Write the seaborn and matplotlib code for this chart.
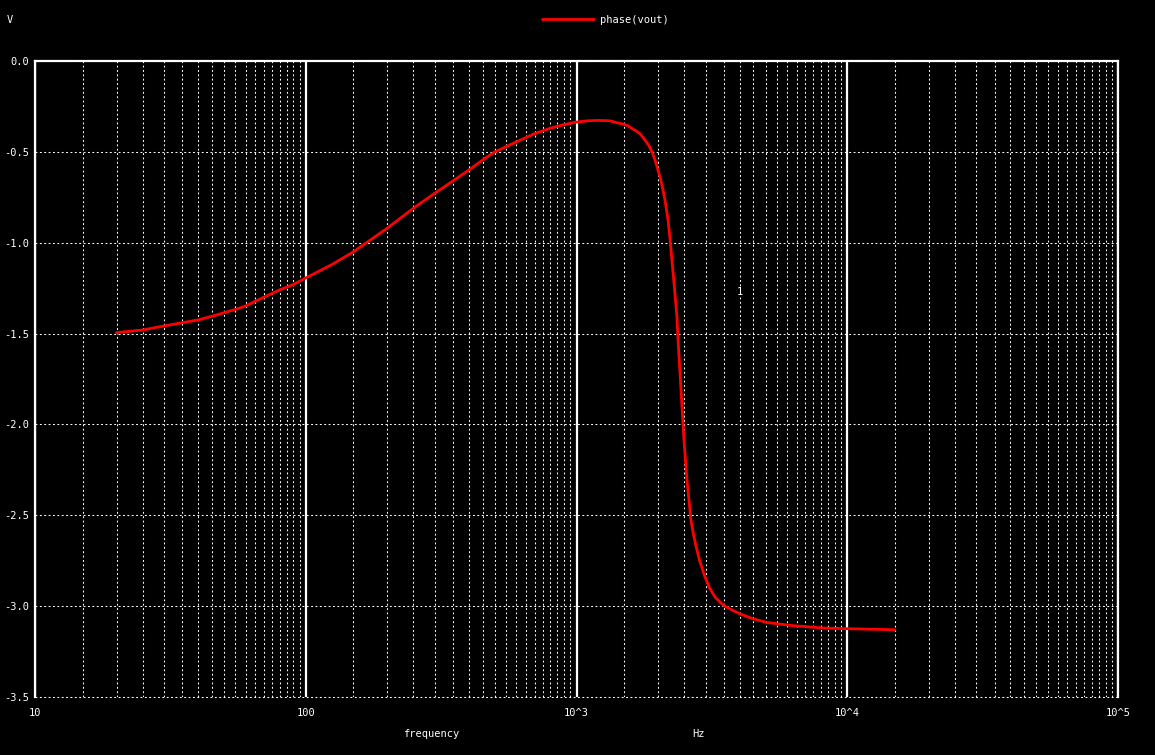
import numpy as np
import pandas as pd
import seaborn as sns
import matplotlib.pyplot as plt
from matplotlib.ticker import FixedLocator, NullFormatter

# data (frequency in Hz, phase in rad)
freq = [20, 25, 30, 35, 40, 45, 50, 55, 60, 70, 80, 90, 100, 125, 150, 200,
        250, 300, 350, 400, 450, 500, 600, 700, 800, 900, 1000, 1100, 1200,
        1330, 1406, 1485, 1550, 1600, 1660, 1716, 1760, 1800, 1850, 1901, 1950,
        2000, 2045, 2087, 2130, 2178, 2205, 2234, 2291, 2350, 2371, 2432, 2495,
        2560, 2648, 2700, 2763, 2850, 2983, 3100, 3248, 3400, 3530, 3690, 4018,
        4500, 5050, 6270, 8100, 10000, 15000]
phase = [-1.495, -1.48, -1.458, -1.44, -1.425, -1.405, -1.385, -1.367, -1.348,
         -1.30, -1.26, -1.23, -1.194, -1.12, -1.05, -0.92, -0.81, -0.727, -0.66,
         -0.60, -0.545, -0.50, -0.445, -0.40, -0.37, -0.35, -0.336, -0.329,
         -0.327, -0.329, -0.339, -0.347, -0.357, -0.37, -0.385, -0.40, -0.42,
         -0.44, -0.465, -0.50, -0.545, -0.60, -0.65, -0.71, -0.78, -0.875,
         -0.95, -1.04, -1.22, -1.41, -1.53, -1.81, -2.09, -2.31, -2.53, -2.60,
         -2.67, -2.75, -2.84, -2.90, -2.95, -2.98, -3.0, -3.015, -3.043, -3.07,
         -3.09, -3.107, -3.12, -3.124, -3.13]

x_ticks = [10, 100, 1000, 10000, 100000]
x_labels = ['10', '100', '10^3', '10^4', '10^5']
y_ticks = [0.0, -0.5, -1.0, -1.5, -2.0, -2.5, -3.0, -3.5]
y_labels = ['0.0', '-0.5', '-1.0', '-1.5', '-2.0', '-2.5', '-3.0', '-3.5']

df = pd.DataFrame({'frequency': freq, 'phase': phase})

sns.set_theme(style='dark', rc={'axes.facecolor': 'black',
                                'figure.facecolor': 'black',
                                'text.color': 'white'})
plt.rcParams['font.family'] = ['DejaVu Sans Mono', 'DejaVu Sans']
fs = 7.5

fig = plt.figure(figsize=(11.55, 7.55), dpi=100)
ax = fig.add_axes([35 / 1155, 1 - 697 / 755, (1118 - 35) / 1155, (697 - 61) / 755])

sns.lineplot(data=df, x='frequency', y='phase', color='#ff0000', linewidth=2.0,
             label='phase(vout)', ax=ax)

ax.set_xscale('log')
ax.set_xlim(10, 100000)
ax.set_ylim(-3.5, 0)

# minor grid every 5 units inside each decade (gnuplot style)
minor = [m * 10 ** d for d in range(1, 5) for m in np.arange(1.5, 10, 0.5)]
ax.xaxis.set_minor_locator(FixedLocator(minor))
ax.xaxis.set_minor_formatter(NullFormatter())
ax.set_xticks(x_ticks)
ax.set_xticklabels(x_labels)
ax.set_yticks(y_ticks)
ax.set_yticklabels(y_labels)
ax.tick_params(which='both', length=0, colors='white', labelsize=fs)
ax.tick_params(axis='x', pad=8)
ax.tick_params(axis='y', pad=4)

dots = (0, (1.8, 2.4))
ax.grid(False)
ax.grid(which='major', axis='x', color='white', linewidth=1.6, linestyle='-')
ax.grid(which='minor', axis='x', color='white', linewidth=0.75, linestyle=dots)
ax.grid(which='major', axis='y', color='white', linewidth=0.75, linestyle=dots)
ax.set_axisbelow(True)

# bottom border is a dotted line in the reference
ax.axhline(-3.5, color='white', linewidth=0.75, linestyle=dots, clip_on=False)

for side in ['top', 'left', 'right']:
    ax.spines[side].set_color('white')
    ax.spines[side].set_linewidth(1.6)
    ax.spines[side].set_visible(True)
ax.spines['bottom'].set_visible(False)

ax.set_xlabel('')
ax.set_ylabel('')
ax.get_legend().remove()

handles, labels = ax.get_legend_handles_labels()
fig.legend(handles, labels, loc='center', bbox_to_anchor=(0.524, 0.9735),
           frameon=False, fontsize=fs, handlelength=5.0, handletextpad=0.6,
           labelcolor='white')

ax.text(4000, -1.27, '1', color='white', fontsize=fs, ha='center', va='center')
fig.text(10 / 1155, 1 - 20 / 755, 'V', color='white', fontsize=fs, ha='center', va='center')
fig.text(431 / 1155, 1 - 734 / 755, 'frequency', color='white', fontsize=fs, ha='center', va='center')
fig.text(698 / 1155, 1 - 734 / 755, 'Hz', color='white', fontsize=fs, ha='center', va='center')

fig.savefig('out.png', dpi=100, facecolor='black')
